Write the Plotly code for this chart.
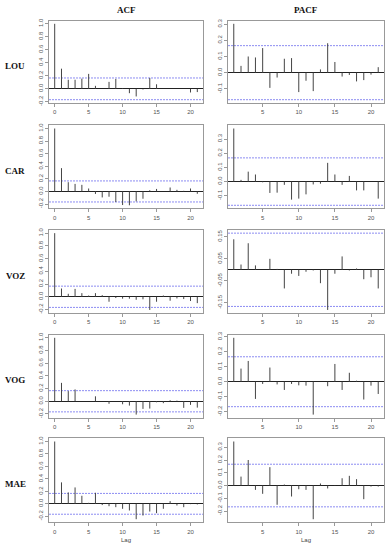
import plotly.graph_objects as go

# ---------------- data ----------------
series_names = ["LOU", "CAR", "VOZ", "VOG", "MAE"]
acf_lags = list(range(0, 22))
pacf_lags = list(range(1, 22))

acf_lou = [1.0, 0.31, 0.14, 0.14, 0.157, 0.23, 0.046, 0.0, 0.107, 0.152, 0.01, -0.067,
           -0.117, -0.01, 0.168, 0.07, 0.0, 0.0, 0.0, 0.0, -0.056, -0.05]
acf_car = [1.0, 0.37, 0.147, 0.12, 0.105, 0.047, -0.04, -0.095, -0.084, -0.168, -0.216,
           -0.22, -0.158, -0.116, 0.02, 0.04, 0.0, 0.063, 0.026, 0.01, 0.047, -0.037]
acf_voz = [1.0, 0.13, 0.047, 0.124, 0.057, 0.02, 0.057, 0.026, -0.078, -0.02, -0.03,
           -0.03, -0.047, -0.04, -0.207, -0.078, 0.02, -0.062, -0.026, -0.036, -0.067, -0.1]
acf_vog = [1.0, 0.29, 0.16, 0.187, 0.0, 0.0, 0.078, 0.0, -0.04, 0.0, -0.047, -0.068,
           -0.21, -0.12, -0.115, -0.016, -0.03, 0.016, 0.01, -0.104, -0.057, -0.1]
acf_mae = [1.0, 0.344, 0.183, 0.263, 0.129, 0.016, 0.177, -0.02, -0.038, -0.054, -0.08,
           -0.107, -0.247, -0.188, -0.124, -0.15, -0.08, 0.043, -0.027, -0.054, -0.005, -0.01]

pacf_lou = [0.302, 0.042, 0.10, 0.094, 0.152, -0.094, -0.03, 0.086, 0.09, -0.12, -0.05,
            -0.114, 0.02, 0.182, 0.066, -0.024, -0.014, -0.054, -0.046, -0.012, 0.034]
pacf_car = [0.374, 0.012, 0.07, 0.05, -0.005, -0.08, -0.078, -0.023, -0.127, -0.12, -0.09,
            -0.02, -0.015, 0.132, 0.05, -0.023, 0.04, -0.062, -0.062, 0.0, -0.12]
pacf_voz = [0.139, 0.024, 0.121, 0.02, 0.0, 0.05, 0.004, -0.085, -0.018, -0.028, -0.009,
            -0.003, -0.061, -0.183, -0.018, 0.061, -0.003, 0.006, -0.043, -0.034, -0.085]
pacf_vog = [0.294, 0.088, 0.139, -0.115, -0.015, 0.095, -0.018, -0.055, -0.015, -0.024,
            -0.026, -0.22, 0.0, -0.03, 0.119, -0.055, 0.06, 0.007, -0.119, -0.026, -0.082]
pacf_mae = [0.345, 0.07, 0.2, -0.034, -0.065, 0.144, -0.151, 0.008, -0.086, -0.029, -0.034,
            -0.264, 0.016, -0.023, -0.003, 0.057, 0.076, 0.05, -0.107, -0.008, -0.008]

acf_values = [acf_lou, acf_car, acf_voz, acf_vog, acf_mae]
pacf_values = [pacf_lou, pacf_car, pacf_voz, pacf_vog, pacf_mae]

conf_limit = 0.167

acf_xticks = [0, 5, 10, 15, 20]
pacf_xticks = [5, 10, 15, 20]
acf_yticks = [-0.2, 0.0, 0.2, 0.4, 0.6, 0.8, 1.0]
acf_yticklabels = ["-0.2", "0.0", "0.2", "0.4", "0.6", "0.8", "1.0"]
pacf_yticks = [
    [-0.1, 0.0, 0.1, 0.2, 0.3],
    [-0.1, 0.0, 0.1, 0.2, 0.3],
    [-0.15, -0.05, 0.05, 0.15],
    [-0.2, -0.1, 0.0, 0.1, 0.2, 0.3],
    [-0.2, -0.1, 0.0, 0.1, 0.2, 0.3],
]
pacf_yticklabels = [
    ["-0.1", "0.0", "0.1", "0.2", "0.3"],
    ["-0.1", "0.0", "0.1", "0.2", "0.3"],
    ["-0.15", "-0.05", "0.05", "0.15"],
    ["-0.2", "-0.1", "0.0", "0.1", "0.2", "0.3"],
    ["-0.2", "-0.1", "0.0", "0.1", "0.2", "0.3"],
]

# ---------------- layout geometry ----------------
W, H = 388, 550
col_px = [(49, 203), (228, 384)]
row_px = [(17, 100), (123, 207), (229, 313), (335, 419), (440, 525)]


def ext(lo, hi, f=0.04):
    d = (hi - lo) * f
    return [lo - d, hi + d]


fig = go.Figure()
layout = dict(
    width=W, height=H, margin=dict(l=0, r=0, t=0, b=0),
    paper_bgcolor="white", plot_bgcolor="white", showlegend=False,
)
annotations = []

axis_font = dict(family="Liberation Sans, Arial", size=6, color="#555")
border_col = "#999"
bar_col = "#444"
ci_col = "#8c8cf2"

for i in range(5):
    for j in range(2):
        k = i * 2 + j + 1
        xa = "xaxis" if k == 1 else f"xaxis{k}"
        ya = "yaxis" if k == 1 else f"yaxis{k}"
        xr = "x" if k == 1 else f"x{k}"
        yr = "y" if k == 1 else f"y{k}"
        if j == 0:
            lags, vals = acf_lags, acf_values[i]
            xticks = acf_xticks
            yticks, ylabels = acf_yticks, acf_yticklabels
        else:
            lags, vals = pacf_lags, pacf_values[i]
            xticks = pacf_xticks
            yticks, ylabels = pacf_yticks[i], pacf_yticklabels[i]

        xlo, xhi = ext(min(lags), max(lags))

        # confidence bounds (dashed blue)
        for c in (conf_limit, -conf_limit):
            fig.add_trace(go.Scatter(x=[xlo, xhi], y=[c, c], mode="lines",
                                     line=dict(color=ci_col, width=1, dash="2px,1px"),
                                     xaxis=xr, yaxis=yr, hoverinfo="skip"))

        xs, ys = [], []
        for lag, v in zip(lags, vals):
            xs += [lag, lag, None]
            ys += [0, v, None]
        fig.add_trace(go.Scatter(x=xs, y=ys, mode="lines",
                                 line=dict(color=bar_col, width=1),
                                 xaxis=xr, yaxis=yr, hoverinfo="skip"))

        ylo = min(min(vals), -conf_limit)
        yhi = max(max(vals), conf_limit)
        x0, x1 = col_px[j]
        t0, t1 = row_px[i]
        layout[xa] = dict(
            domain=[x0 / W, x1 / W], range=[xlo, xhi],
            anchor=yr, showgrid=False, zeroline=False,
            showline=True, mirror=True, linecolor=border_col, linewidth=1,
            ticks="outside", ticklen=3, tickcolor=border_col,
            tickvals=xticks, ticktext=[str(t) for t in xticks],
            tickfont=axis_font, fixedrange=True,
        )
        layout[ya] = dict(
            domain=[1 - t1 / H, 1 - t0 / H], range=ext(ylo, yhi),
            anchor=xr, showgrid=False,
            zeroline=True, zerolinecolor="#222", zerolinewidth=1,
            showline=True, mirror=True, linecolor=border_col, linewidth=1,
            ticks="outside", ticklen=3, tickcolor=border_col,
            tickvals=yticks, ticktext=ylabels, tickangle=-90,
            tickfont=axis_font, fixedrange=True,
        )

# column titles
title_font = dict(family="Liberation Serif, Times New Roman", size=9, color="#111")
annotations.append(dict(text="<b>ACF</b>", x=(col_px[0][0] + col_px[0][1]) / 2 / W,
                        y=1 - 6 / H, xref="paper", yref="paper", showarrow=False,
                        font=title_font, xanchor="center", yanchor="middle"))
annotations.append(dict(text="<b>PACF</b>", x=(col_px[1][0] + col_px[1][1]) / 2 / W,
                        y=1 - 6 / H, xref="paper", yref="paper", showarrow=False,
                        font=title_font, xanchor="center", yanchor="middle"))
# row labels
for i, name in enumerate(series_names):
    t0, t1 = row_px[i]
    annotations.append(dict(text=f"<b>{name}</b>", x=15 / W,
                            y=1 - ((t0 + t1) / 2 + 4) / H,
                            xref="paper", yref="paper", showarrow=False,
                            font=title_font, xanchor="center", yanchor="middle"))
# Lag labels
for j in range(2):
    x0, x1 = col_px[j]
    annotations.append(dict(text="Lag", x=(x0 + x1) / 2 / W, y=1 - 543 / H,
                            xref="paper", yref="paper", showarrow=False,
                            font=dict(family="Liberation Sans, Arial", size=6, color="#444"),
                            xanchor="center", yanchor="middle"))

layout["annotations"] = annotations
fig.update_layout(**layout)
fig.write_html("out.html", config={"displayModeBar": False},
               post_script="document.body.style.margin='0';document.body.style.overflow='hidden';")
